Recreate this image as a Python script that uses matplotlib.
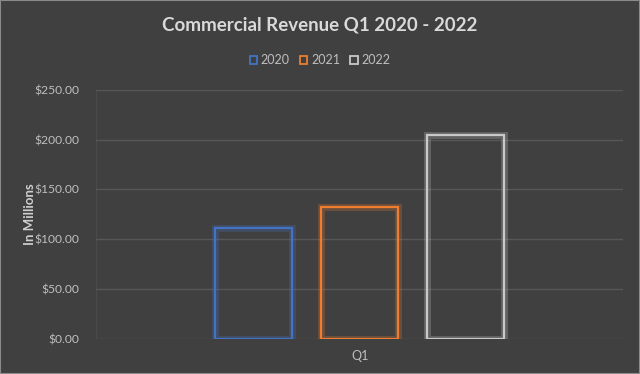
import matplotlib
matplotlib.use("Agg")
import matplotlib.pyplot as plt
import matplotlib.patheffects as pe

years = ["2020", "2021", "2022"]
values = [111.7, 132.3, 205.0]
colors = ["#4472C4", "#ED7D31", "#C9C9C9"]
category = "Q1"
yticks = [0, 50, 100, 150, 200, 250]
ytick_labels = ["$0.00", "$50.00", "$100.00", "$150.00", "$200.00", "$250.00"]

bg = "#404040"
plt.rcParams['font.family'] = ['Lato', 'DejaVu Sans']

fig = plt.figure(figsize=(6.4, 3.74), dpi=100, facecolor=bg)
ax = fig.add_axes([96/640, 1 - 339/374, (623-96)/640, (339-89.7)/374])
ax.set_facecolor(bg)

for i, (y, v, c) in enumerate(zip(years, values, colors)):
    b = ax.bar(i, v, width=0.724, facecolor="none", edgecolor=c, linewidth=1.6,
               label=y, zorder=3)
    for p in b.patches:
        p.set_path_effects([pe.Stroke(linewidth=5, foreground=c, alpha=0.25),
                            pe.Normal()])

ax.set_xlim(-1.488, 3.486)
ax.set_ylim(0, 250)
ax.set_yticks(yticks)
ax.set_yticklabels(ytick_labels, color="#BFBFBF", fontsize=8.7)
ax.set_xticks([1])
ax.set_xticklabels([category], color="#BFBFBF", fontsize=9)
ax.tick_params(length=0, pad=12)
ax.tick_params(axis='x', pad=8)
ax.grid(axis='y', color="#575757", linewidth=1, zorder=0)
for s in ax.spines.values():
    s.set_visible(False)
ax.axvline(-1.488, color="#4a4a4a", lw=1, zorder=0)
ax.axvline(3.486, color="#4a4a4a", lw=1, zorder=0)

ax.set_ylabel("In Millions", color="#D0D0D0", fontsize=9.5, fontweight="bold")
ax.yaxis.set_label_coords((36 - 96) / 527, 0.5)

fig.text(0.5, 1 - 25/374, "Commercial Revenue Q1 2020 - 2022", ha="center", va="center",
         color="#D9D9D9", fontsize=13.5, fontweight="bold")

handles, labels = ax.get_legend_handles_labels()
leg = fig.legend(handles, labels, loc="center", bbox_to_anchor=(0.5, 1 - 60/374), ncol=3,
                 frameon=False, fontsize=9, labelcolor="#BFBFBF", handlelength=0.6,
                 handleheight=0.6, handletextpad=0.3, columnspacing=0.8)
for h in leg.legend_handles:
    h.set_path_effects([])
    h.set_linewidth(1.3)

fig.patches.append(plt.Rectangle((0, 0), 1, 1, transform=fig.transFigure, fill=False,
                                 edgecolor="#8a8a8a", linewidth=1.5))
fig.savefig("out.png", dpi=100, facecolor=bg)
